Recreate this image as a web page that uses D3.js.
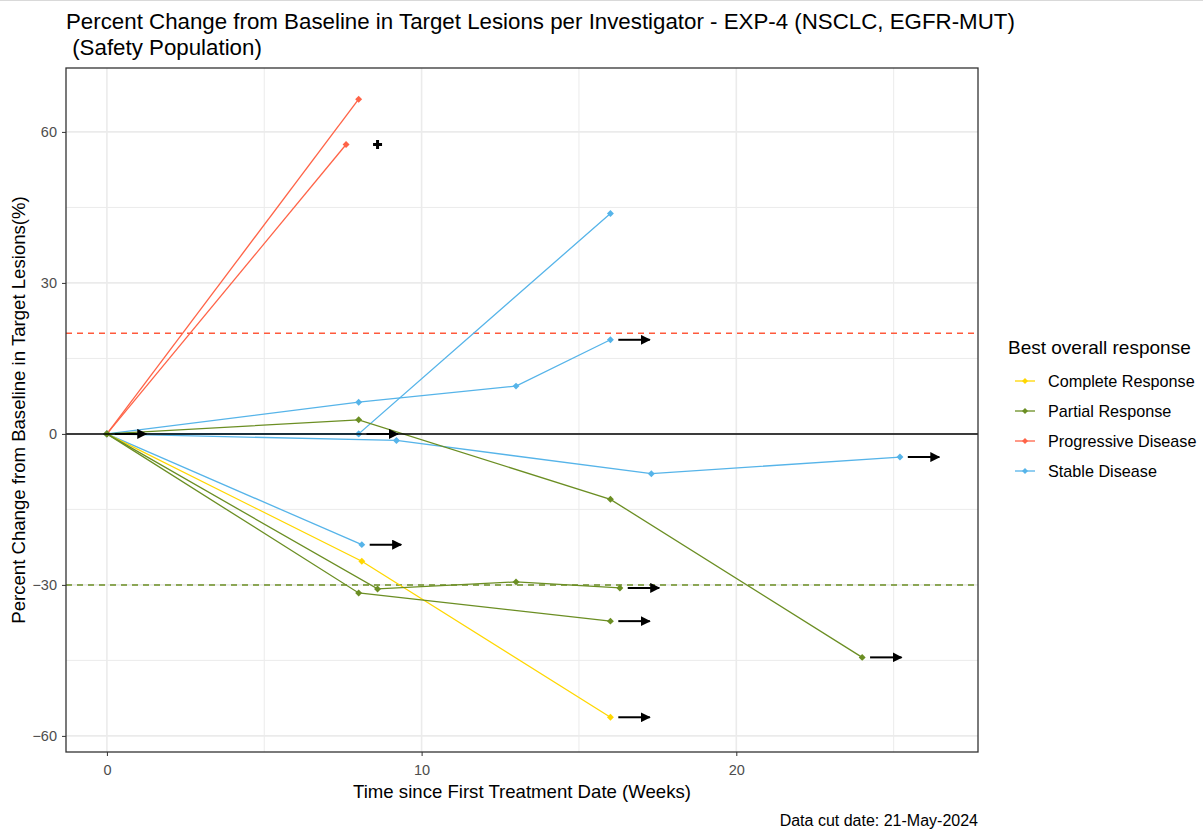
<!DOCTYPE html>
<html>
<head>
<meta charset="utf-8">
<script src="https://cdn.jsdelivr.net/npm/d3@7"></script>
<style>
body { margin: 0; background: #fff; }
svg { font-family: "Liberation Sans", Arial, sans-serif; display: block; }
</style>
</head>
<body>
<svg id="chart"></svg>
<script>
// one entry per patient
var patients = ["P01", "P02", "P03", "P04", "P05", "P06", "P07", "P08", "P09", "P10", "P11"];
var response = ["Progressive Disease", "Progressive Disease", "Stable Disease", "Stable Disease",
	"Stable Disease", "Stable Disease", "Stable Disease", "Complete Response",
	"Partial Response", "Partial Response", "Partial Response"];
var weeks = [
	[0, 8.0],
	[0, 7.6],
	[0, 8.0, 16.0],
	[0, 8.0, 13.0, 16.0],
	[0, 9.2, 17.3, 25.2],
	[0, 8.1],
	[0, 8.0],
	[0, 8.1, 16.0],
	[0, 8.0, 16.0, 24.0],
	[0, 8.6, 13.0, 16.3],
	[0, 8.0, 16.0]
];
var pctChange = [
	[0, 66.5],
	[0, 57.5],
	[0, 0, 43.8],
	[0, 6.3, 9.5, 18.7],
	[0, -1.3, -7.9, -4.6],
	[0, -22.0],
	[0, 0],
	[0, -25.3, -56.3],
	[0, 2.8, -13.0, -44.4],
	[0, -30.8, -29.4, -30.6],
	[0, -31.6, -37.2]
];

// ongoing patients: arrow starts just right of the last assessment
var arrowWeeks = [0, 8.0, 16.0, 25.2, 8.1, 16.0, 24.0, 16.3, 16.0];
var arrowPct = [0, 0, 18.7, -4.6, -22.0, -56.3, -44.4, -30.6, -37.2];

// censor mark
var plusWeeks = [8.6];
var plusPct = [57.5];

var categories = ["Complete Response", "Partial Response", "Progressive Disease", "Stable Disease"];
var colors = ["#FFD700", "#6B8E23", "#FF6347", "#56B4E9"];

var xTicks = [0, 10, 20];
var yTicks = [-60, -30, 0, 30, 60];
var xMinor = [5, 15, 25];
var yMinor = [-45, -15, 15, 45];

var svg = d3.select("#chart").attr("width", 1203).attr("height", 830),
	margin = {top: 68, right: 225, bottom: 78, left: 66},
	width = 1203 - margin.left - margin.right,
	height = 830 - margin.top - margin.bottom;

var xScale = d3.scaleLinear().domain([-1.3, 27.68]).range([0, width]);
var yScale = d3.scaleLinear().domain([-63.2, 72.7]).range([height, 0]);
var colorScale = d3.scaleOrdinal().domain(categories).range(colors);

svg.append("line")
	.attr("x1", 0).attr("x2", 1203).attr("y1", 0.5).attr("y2", 0.5)
	.attr("stroke", "#d9d9d9");

var g = svg.append("g")
	.attr("transform", "translate(" + margin.left + "," + margin.top + ")");

svg.append("defs").append("clipPath").attr("id", "clip")
	.append("rect").attr("width", width).attr("height", height);

// grid
g.selectAll(".vminor").data(xMinor).enter().append("line")
	.attr("x1", function(d){ return xScale(d); }).attr("x2", function(d){ return xScale(d); })
	.attr("y1", 0).attr("y2", height)
	.attr("stroke", "#ebebeb").attr("stroke-width", 1);
g.selectAll(".hminor").data(yMinor).enter().append("line")
	.attr("y1", function(d){ return yScale(d); }).attr("y2", function(d){ return yScale(d); })
	.attr("x1", 0).attr("x2", width)
	.attr("stroke", "#ebebeb").attr("stroke-width", 1);
g.selectAll(".vmajor").data(xTicks).enter().append("line")
	.attr("x1", function(d){ return xScale(d); }).attr("x2", function(d){ return xScale(d); })
	.attr("y1", 0).attr("y2", height)
	.attr("stroke", "#ebebeb").attr("stroke-width", 1.6);
g.selectAll(".hmajor").data(yTicks).enter().append("line")
	.attr("y1", function(d){ return yScale(d); }).attr("y2", function(d){ return yScale(d); })
	.attr("x1", 0).attr("x2", width)
	.attr("stroke", "#ebebeb").attr("stroke-width", 1.6);

// reference lines
g.append("line")
	.attr("x1", 0).attr("x2", width)
	.attr("y1", yScale(20)).attr("y2", yScale(20))
	.attr("stroke", "#FF5A3C").attr("stroke-width", 1.5).attr("stroke-dasharray", "6,5");
g.append("line")
	.attr("x1", 0).attr("x2", width)
	.attr("y1", yScale(-30)).attr("y2", yScale(-30))
	.attr("stroke", "#6B8E23").attr("stroke-width", 1.5).attr("stroke-dasharray", "6,5");

var plot = g.append("g").attr("clip-path", "url(#clip)");

var line = d3.line()
	.x(function(d){ return xScale(d[0]); })
	.y(function(d){ return yScale(d[1]); });

var series = patients.map(function(p, i){
	return {
		id: p,
		response: response[i],
		pts: weeks[i].map(function(w, k){ return [w, pctChange[i][k]]; })
	};
});

plot.selectAll(".pline").data(series).enter().append("path")
	.attr("class", "pline")
	.attr("d", function(d){ return line(d.pts); })
	.attr("fill", "none")
	.attr("stroke", function(d){ return colorScale(d.response); })
	.attr("stroke-width", 1.3);

// zero line
g.append("line")
	.attr("x1", 0).attr("x2", width)
	.attr("y1", yScale(0)).attr("y2", yScale(0))
	.attr("stroke", "#000").attr("stroke-width", 1.5);

// filled diamond = square turned 45 degrees
var diamond = d3.symbol().type(d3.symbolSquare).size(24);
series.forEach(function(s){
	plot.selectAll(null).data(s.pts).enter().append("path")
		.attr("d", diamond)
		.attr("transform", function(d){ return "translate(" + xScale(d[0]) + "," + yScale(d[1]) + ") rotate(45)"; })
		.attr("fill", colorScale(s.response));
});

// arrows
svg.select("defs").append("marker")
	.attr("id", "head")
	.attr("viewBox", "0 0 10 10")
	.attr("refX", 9).attr("refY", 5)
	.attr("markerWidth", 5).attr("markerHeight", 5)
	.attr("markerUnits", "strokeWidth")
	.attr("orient", "auto")
	.append("path").attr("d", "M0,0L10,5L0,10Z").attr("fill", "#000");

plot.selectAll(".arrow").data(arrowWeeks).enter().append("line")
	.attr("class", "arrow")
	.attr("x1", function(d){ return xScale(d + 0.25); })
	.attr("x2", function(d){ return xScale(d + 1.25); })
	.attr("y1", function(d, i){ return yScale(arrowPct[i]); })
	.attr("y2", function(d, i){ return yScale(arrowPct[i]); })
	.attr("stroke", "#000").attr("stroke-width", 2)
	.attr("marker-end", "url(#head)");

plot.selectAll(".plus").data(plusWeeks).enter().append("path")
	.attr("d", d3.symbol().type(d3.symbolCross).size(45))
	.attr("transform", function(d, i){ return "translate(" + xScale(d) + "," + yScale(plusPct[i]) + ")"; })
	.attr("fill", "#000");

// panel border
g.append("rect")
	.attr("width", width).attr("height", height)
	.attr("fill", "none").attr("stroke", "#333").attr("stroke-width", 1.3);

// axes
var xAxis = g.append("g")
	.attr("transform", "translate(0," + height + ")")
	.call(d3.axisBottom(xScale).tickValues(xTicks).tickSize(4).tickPadding(6));
var yAxis = g.append("g")
	.call(d3.axisLeft(yScale).tickValues(yTicks).tickSize(4).tickPadding(5));
[xAxis, yAxis].forEach(function(a){
	a.select(".domain").remove();
	a.selectAll(".tick line").attr("stroke", "#333");
	a.selectAll(".tick text").attr("fill", "#4D4D4D").style("font-size", "14.5px");
});
xAxis.selectAll(".tick text").attr("dy", "0.9em");

// titles
svg.append("text")
	.attr("x", 66).attr("y", 29)
	.attr("fill", "#000").style("font-size", "22.3px")
	.text("Percent Change from Baseline in Target Lesions per Investigator - EXP-4 (NSCLC, EGFR-MUT)");
svg.append("text")
	.attr("x", 66).attr("y", 55)
	.attr("fill", "#000").style("font-size", "22.3px")
	.attr("xml:space", "preserve")
	.text(" (Safety Population)");

svg.append("text")
	.attr("x", margin.left + width / 2).attr("y", 798)
	.attr("text-anchor", "middle").style("font-size", "18.6px")
	.text("Time since First Treatment Date (Weeks)");

svg.append("g")
	.attr("transform", "translate(25," + (margin.top + height / 2) + ")")
	.append("text")
		.attr("transform", "rotate(-90)")
		.attr("text-anchor", "middle").style("font-size", "18.6px")
		.text("Percent Change from Baseline in Target Lesions(%)");

svg.append("text")
	.attr("x", margin.left + width).attr("y", 826)
	.attr("text-anchor", "end").style("font-size", "16px")
	.text("Data cut date: 21-May-2024");

// legend
var legend = svg.append("g").attr("transform", "translate(1002,0)");
legend.append("text")
	.attr("x", 6).attr("y", 354)
	.style("font-size", "19px")
	.text("Best overall response");

var item = legend.selectAll(".legend").data(categories).enter().append("g")
	.attr("class", "legend")
	.attr("transform", function(d, i){ return "translate(0," + (381 + i * 30) + ")"; });
item.append("line")
	.attr("x1", 13).attr("x2", 33)
	.attr("stroke", function(d){ return colorScale(d); }).attr("stroke-width", 1.3);
item.append("path")
	.attr("d", d3.symbol().type(d3.symbolSquare).size(18))
	.attr("transform", "translate(23,0) rotate(45)")
	.attr("fill", function(d){ return colorScale(d); });
item.append("text")
	.attr("x", 46).attr("y", 5.5)
	.style("font-size", "16.2px")
	.text(function(d){ return d; });
</script>
</body>
</html>
